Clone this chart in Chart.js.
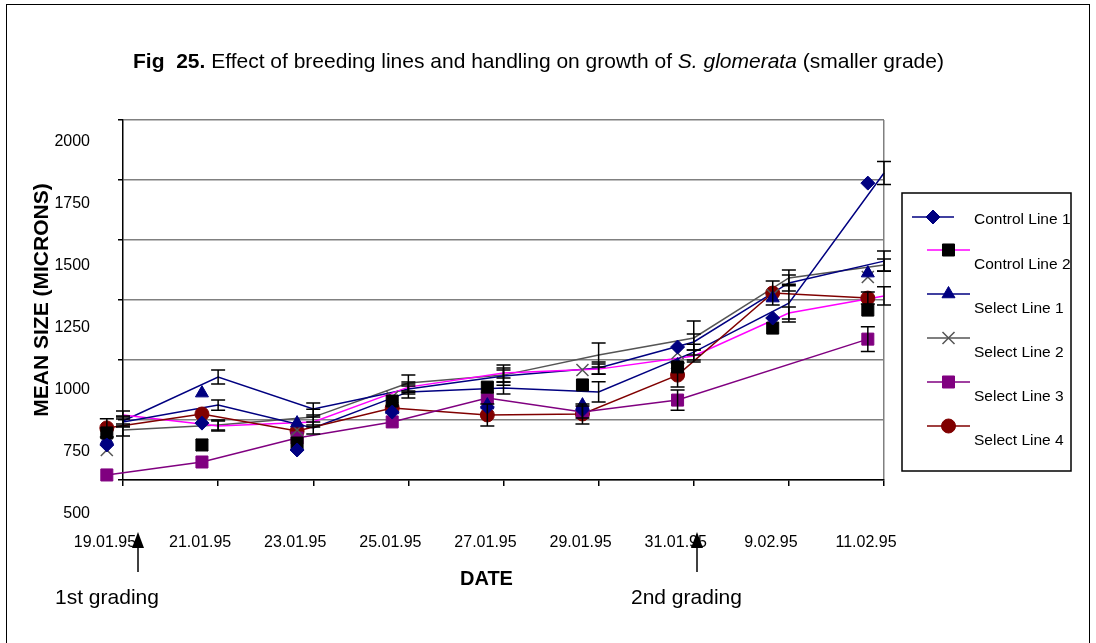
<!DOCTYPE html>
<html>
<head>
<meta charset="utf-8">
<script src="https://cdn.jsdelivr.net/npm/chart.js@4.4.0/dist/chart.umd.min.js"></script>
<style>
  html, body { margin: 0; padding: 0; background: #fff; }
  #wrap { position: relative; width: 1096px; height: 643px; overflow: hidden; font-family: 'Liberation Sans', Arial, sans-serif; }
  #frame { position: absolute; left: 6px; top: 4px; width: 1082px; height: 680px; border: 1.5px solid #000; }
  #chart { position: absolute; left: 0; top: 0; }
  .txt { position: absolute; white-space: nowrap; line-height: 21px; color: #000; }
</style>
</head>
<body>
<div id="wrap">
  <div id="frame"></div>
  <canvas id="chart" width="1096" height="643"></canvas>
  <div class="txt" style="left:133px; top:50px; font-size:21px;"><b>Fig&nbsp; 25.</b> Effect of breeding lines and handling on growth of <i>S. glomerata</i> (smaller grade)</div>
  <div class="txt" style="left:460px; top:568px; font-size:20px; font-weight:bold;">DATE</div>
  <div class="txt" style="left:55px; top:586px; font-size:21px;">1st grading</div>
  <div class="txt" style="left:631px; top:586px; font-size:21px;">2nd grading</div>
</div>
<script>
const dates = ['19.01.95', '21.01.95', '23.01.95', '25.01.95', '27.01.95', '29.01.95', '31.01.95', '9.02.95', '11.02.95'];
const yTicks = [500, 750, 1000, 1250, 1500, 1750, 2000];
const names = ['Control Line 1', 'Control Line 2', 'Select Line 1', 'Select Line 2', 'Select Line 3', 'Select Line 4'];

// traces with error bars, drawn on the date ticks
const cl1Line = [742, 812, 717, 867, 883, 867, 1033, 1237, 1779];
const cl2Line = [771, 725, 742, 887, 946, 962, 1017, 1196, 1267];
const sl1Line = [746, 929, 796, 879, 933, 967, 1075, 1321, 1412];
const sl2Line = [708, 729, 762, 904, 937, 1021, 1092, 1342, 1396];
const cl1Err = [21, 21, 25, 25, 25, 42, 33, 79, 48];
const cl2Err = [17, 21, 21, 21, 21, 21, 25, 25, 38];
const sl1Err = [21, 29, 25, 21, 25, 25, 33, 33, 42];
const sl2Err = [25, 21, 33, 33, 42, 50, 71, 33, 25];

// symbols (sit a little left of the ticks)
const cl1Marks = [646, 737, 625, 783, 804, 792, 1054, 1175, 1737];
const cl2Marks = [696, 646, 654, 829, 887, 896, 971, 1133, 1208];
const sl1Marks = [667, 862, 737, 792, 812, 812, 979, 1258, 1362];
const sl2Marks = [625, 646, 708, 846, 883, 958, 1029, 1271, 1346];
const sl3Vals = [521, 575, 675, 742, 842, 783, 833, null, 1087];
const sl4Vals = [717, 775, 704, 800, 771, 775, 937, 1279, 1258];
const sl3Err = [0, 0, 0, 0, 0, 25, 42, 0, 52];
const sl4Err = [38, 0, 0, 0, 46, 42, 50, 50, 25];

const navy = '#000080', magenta = '#ff00ff', grey = '#555555', purple = '#800080', maroon = '#800000';
const toPts = arr => arr.map((v, i) => ({ x: i, y: v }));

Chart.defaults.font.family = "'Liberation Sans', Arial, sans-serif";
Chart.defaults.color = '#000';

function marks(label, arr, style, r, col, line) {
  return {
    label, data: toPts(arr), xAxisID: 'xm', yAxisID: 'y', showLine: false,
    pointStyle: style, pointRadius: r, pointBackgroundColor: col, pointBorderColor: col,
    pointBorderWidth: style === 'crossRot' ? 1.5 : 1, backgroundColor: col, borderColor: line,
    clip: false, order: 0
  };
}
function trace(arr, col, errs) {
  return {
    data: toPts(arr), xAxisID: 'x', yAxisID: 'y', borderColor: col, borderWidth: 1.5,
    pointRadius: 0, errors: errs, clip: false, order: 1
  };
}

const sl3 = marks(names[4], sl3Vals, 'rect', 8.5, purple, purple);
sl3.showLine = true; sl3.spanGaps = true; sl3.borderWidth = 1.5; sl3.errors = sl3Err;
const sl4 = marks(names[5], sl4Vals, 'circle', 7, maroon, maroon);
sl4.showLine = true; sl4.borderWidth = 1.5; sl4.errors = sl4Err;

const datasets = [
  marks(names[0], cl1Marks, 'rectRot', 7, navy, navy),
  marks(names[1], cl2Marks, 'rect', 8.5, '#000', magenta),
  marks(names[2], sl1Marks, 'triangle', 7.5, navy, navy),
  marks(names[3], sl2Marks, 'crossRot', 8.5, grey, grey),
  sl3,
  sl4,
  trace(cl1Line, navy, cl1Err),
  trace(cl2Line, magenta, cl2Err),
  trace(sl1Line, navy, sl1Err),
  trace(sl2Line, grey, sl2Err)
];

// symbols of the first date fall left of the plot area: widen the area while datasets draw
const wideArea = {
  id: 'wideArea',
  beforeDatasetsDraw(chart) {
    chart._keepLeft = chart.chartArea.left;
    chart.chartArea.left = 0;
  },
  afterDatasetsDraw(chart) {
    chart.chartArea.left = chart._keepLeft;
  }
};

const errorBars = {
  id: 'errorBars',
  afterDatasetsDraw(chart) {
    const ctx = chart.ctx, ys = chart.scales.y;
    ctx.save();
    ctx.strokeStyle = '#000';
    ctx.lineWidth = 1.5;
    chart.data.datasets.forEach(ds => {
      if (!ds.errors) return;
      const xs = chart.scales[ds.xAxisID];
      ds.data.forEach((p, i) => {
        const e = ds.errors[i];
        if (p.y == null || !e) return;
        const px = xs.getPixelForValue(p.x);
        const t = ys.getPixelForValue(p.y + e), b = ys.getPixelForValue(p.y - e);
        ctx.beginPath();
        ctx.moveTo(px, t); ctx.lineTo(px, b);
        ctx.moveTo(px - 7, t); ctx.lineTo(px + 7, t);
        ctx.moveTo(px - 7, b); ctx.lineTo(px + 7, b);
        ctx.stroke();
      });
    });
    ctx.restore();
  }
};

const boxLegend = {
  id: 'boxLegend',
  afterDraw(chart) {
    const ctx = chart.ctx;
    const L = 902, T = 193, R = 1071, B = 471;
    ctx.save();
    ctx.fillStyle = '#fff';
    ctx.fillRect(L, T, R - L, B - T);
    ctx.strokeStyle = '#000';
    ctx.lineWidth = 1.5;
    ctx.strokeRect(L, T, R - L, B - T);
    ctx.beginPath();
    ctx.rect(L, T, R - L, B - T);
    ctx.clip();
    names.forEach((name, k) => {
      const ds = chart.data.datasets[k];
      const y = k === 0 ? 217 : 250 + (k - 1) * 44;
      const x0 = k === 0 ? 912 : 927, x1 = k === 0 ? 954 : 970;
      ctx.strokeStyle = ds.borderColor;
      ctx.lineWidth = 1.5;
      ctx.beginPath(); ctx.moveTo(x0, y); ctx.lineTo(x1, y); ctx.stroke();
      ctx.fillStyle = ds.pointBackgroundColor;
      ctx.strokeStyle = ds.pointBorderColor;
      ctx.lineWidth = ds.pointBorderWidth;
      Chart.helpers.drawPoint(ctx, { pointStyle: ds.pointStyle, radius: ds.pointRadius, rotation: 0, borderWidth: ds.pointBorderWidth }, (x0 + x1) / 2, y);
      ctx.fillStyle = '#000';
      ctx.font = "15.5px 'Liberation Sans', Arial, sans-serif";
      ctx.textBaseline = 'alphabetic';
      ctx.fillText(name, 974, k === 0 ? y + 7 : y + 19);
    });
    ctx.restore();

    // grading arrows
    ctx.save();
    ctx.strokeStyle = '#000';
    ctx.fillStyle = '#000';
    ctx.lineWidth = 1.5;
    [138, 697].forEach(ax => {
      ctx.beginPath(); ctx.moveTo(ax, 572); ctx.lineTo(ax, 545); ctx.stroke();
      ctx.beginPath(); ctx.moveTo(ax, 532); ctx.lineTo(ax + 6, 548); ctx.lineTo(ax - 6, 548); ctx.closePath(); ctx.fill();
    });
    ctx.restore();
  }
};

new Chart(document.getElementById('chart'), {
  type: 'line',
  data: { datasets },
  options: {
    responsive: false,
    animation: false,
    events: [],
    layout: { padding: { left: 0, top: 120, right: 212, bottom: 0 } },
    plugins: { legend: { display: false }, tooltip: { enabled: false } },
    elements: { line: { tension: 0 } },
    scales: {
      yl: {
        position: 'left', weight: 1, min: 637, max: 2089,
        grid: { display: false, drawTicks: false },
        border: { display: false },
        afterBuildTicks: s => { s.ticks = yTicks.map(v => ({ value: v })); },
        afterFit: s => { s.width = 123; },
        ticks: { font: { size: 16 }, padding: 33, callback: v => String(v) },
        title: { display: true, text: 'MEAN SIZE (MICRONS)', font: { size: 21, weight: 'bold' }, padding: { top: 30, bottom: 0 } }
      },
      y: {
        position: 'left', weight: 0, min: 500, max: 2000,
        ticks: { display: false, stepSize: 250 },
        grid: { color: '#808080', lineWidth: 1.5, tickLength: 5, tickColor: '#000' },
        border: { color: '#000', width: 1.5 },
        afterFit: s => { s.width = 0; }
      },
      x: {
        type: 'linear', position: 'bottom', min: 0, max: 8,
        ticks: { stepSize: 1, autoSkip: false, maxRotation: 0, labelOffset: -18, padding: 47, font: { size: 16 },
                 callback: v => dates[Math.round(v)] },
        grid: { color: c => (c.tick && c.tick.value === 8 ? '#808080' : 'rgba(0,0,0,0)'), lineWidth: 1.5, tickLength: 6, tickColor: '#000' },
        border: { color: '#000', width: 1.5 },
        afterFit: s => { s.height = 163; }
      },
      xm: { type: 'linear', display: false, min: 0.17, max: 8.17 }
    }
  },
  plugins: [wideArea, errorBars, boxLegend]
});
</script>
</body>
</html>
